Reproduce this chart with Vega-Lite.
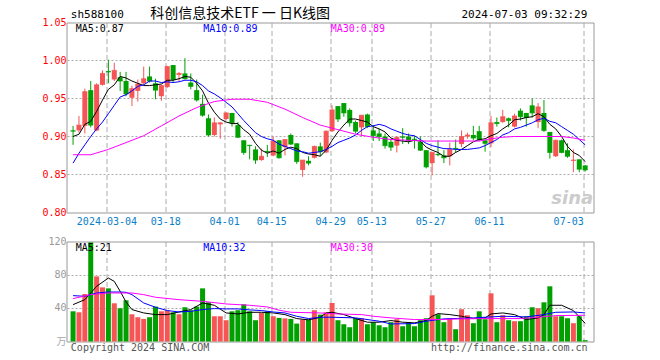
{
"$schema":"https://vega.github.io/schema/vega-lite/v6.json",
"background":"#ffffff",
"padding":{"left":41.5,"top":5.5,"right":60,"bottom":0},
"config":{"view":{"stroke":"#999999","strokeWidth":1},"axis":{"labelFont":"DejaVu Sans Mono","labelFontSize":10,"ticks":false,"domain":false,"title":null},"text":{"font":"DejaVu Sans Mono","fontSize":10}},
"datasets":{
"k":[
{"n":1,"d":"2024-02-23","o":0.908,"h":0.914,"l":0.889,"c":0.907,"v":36.6,"m5":0.900,"m10":0.865},
{"n":2,"d":"2024-02-26","o":0.908,"h":0.927,"l":0.905,"c":0.915,"v":35.4,"m5":0.903,"m10":0.878},
{"n":3,"d":"2024-02-27","o":0.914,"h":0.963,"l":0.904,"c":0.959,"v":57.6,"m5":0.916,"m10":0.889},
{"n":4,"d":"2024-02-28","o":0.961,"h":0.973,"l":0.912,"c":0.915,"v":120,"m5":0.920,"m10":0.900},
{"n":5,"d":"2024-02-29","o":0.908,"h":0.970,"l":0.907,"c":0.968,"v":78.9,"m5":0.933,"m10":0.910},
{"n":6,"d":"2024-03-01","o":0.968,"h":0.987,"l":0.967,"c":0.983,"v":65.6,"m5":0.948,"m10":0.919},
{"n":7,"d":"2024-03-04","o":0.986,"h":1.001,"l":0.970,"c":0.985,"v":64.4,"m5":0.962,"m10":0.930},
{"n":8,"d":"2024-03-05","o":0.975,"h":0.997,"l":0.973,"c":0.987,"v":46.3,"m5":0.968,"m10":0.941},
{"n":9,"d":"2024-03-06","o":0.978,"h":0.985,"l":0.960,"c":0.973,"v":40.3,"m5":0.979,"m10":0.952},
{"n":10,"d":"2024-03-07","o":0.973,"h":0.985,"l":0.953,"c":0.956,"v":49.9,"m5":0.977,"m10":0.955},
{"n":11,"d":"2024-03-08","o":0.951,"h":0.967,"l":0.940,"c":0.963,"v":33.0,"m5":0.973,"m10":0.960},
{"n":12,"d":"2024-03-11","o":0.960,"h":0.975,"l":0.946,"c":0.969,"v":29.4,"m5":0.970,"m10":0.966},
{"n":13,"d":"2024-03-12","o":0.970,"h":0.992,"l":0.968,"c":0.976,"v":27.4,"m5":0.967,"m10":0.968},
{"n":14,"d":"2024-03-13","o":0.979,"h":0.992,"l":0.971,"c":0.973,"v":29.4,"m5":0.967,"m10":0.973},
{"n":15,"d":"2024-03-14","o":0.970,"h":0.976,"l":0.949,"c":0.961,"v":42.3,"m5":0.968,"m10":0.973},
{"n":16,"d":"2024-03-15","o":0.953,"h":0.968,"l":0.947,"c":0.967,"v":36.6,"m5":0.969,"m10":0.971},
{"n":17,"d":"2024-03-18","o":0.965,"h":0.993,"l":0.964,"c":0.992,"v":37.5,"m5":0.974,"m10":0.972},
{"n":18,"d":"2024-03-19","o":0.994,"h":0.994,"l":0.971,"c":0.975,"v":35.4,"m5":0.974,"m10":0.971},
{"n":19,"d":"2024-03-20","o":0.981,"h":0.985,"l":0.973,"c":0.983,"v":33.0,"m5":0.976,"m10":0.972},
{"n":20,"d":"2024-03-21","o":0.983,"h":1.003,"l":0.975,"c":0.976,"v":41.5,"m5":0.979,"m10":0.974},
{"n":21,"d":"2024-03-22","o":0.971,"h":0.983,"l":0.962,"c":0.966,"v":37.9,"m5":0.978,"m10":0.974},
{"n":22,"d":"2024-03-25","o":0.961,"h":0.975,"l":0.946,"c":0.948,"v":42.3,"m5":0.970,"m10":0.972},
{"n":23,"d":"2024-03-26","o":0.943,"h":0.955,"l":0.926,"c":0.928,"v":64.4,"m5":0.960,"m10":0.967},
{"n":24,"d":"2024-03-27","o":0.924,"h":0.929,"l":0.900,"c":0.902,"v":47.5,"m5":0.944,"m10":0.960},
{"n":25,"d":"2024-03-28","o":0.902,"h":0.925,"l":0.900,"c":0.918,"v":30.6,"m5":0.932,"m10":0.956},
{"n":26,"d":"2024-03-29","o":0.916,"h":0.919,"l":0.897,"c":0.918,"v":30.6,"m5":0.923,"m10":0.951},
{"n":27,"d":"2024-04-01","o":0.923,"h":0.932,"l":0.921,"c":0.931,"v":25.8,"m5":0.919,"m10":0.945},
{"n":28,"d":"2024-04-02","o":0.931,"h":0.931,"l":0.913,"c":0.918,"v":36.6,"m5":0.917,"m10":0.939},
{"n":29,"d":"2024-04-03","o":0.915,"h":0.919,"l":0.898,"c":0.899,"v":37.9,"m5":0.917,"m10":0.930},
{"n":30,"d":"2024-04-08","o":0.895,"h":0.895,"l":0.876,"c":0.879,"v":45.1,"m5":0.909,"m10":0.921},
{"n":31,"d":"2024-04-09","o":0.889,"h":0.889,"l":0.870,"c":0.888,"v":36.6,"m5":0.903,"m10":0.913},
{"n":32,"d":"2024-04-10","o":0.883,"h":0.887,"l":0.864,"c":0.869,"v":25.8,"m5":0.891,"m10":0.905},
{"n":33,"d":"2024-04-11","o":0.869,"h":0.884,"l":0.868,"c":0.874,"v":34.6,"m5":0.882,"m10":0.900},
{"n":34,"d":"2024-04-12","o":0.881,"h":0.889,"l":0.873,"c":0.880,"v":36.6,"m5":0.878,"m10":0.897},
{"n":35,"d":"2024-04-15","o":0.875,"h":0.900,"l":0.874,"c":0.894,"v":30.6,"m5":0.881,"m10":0.895},
{"n":36,"d":"2024-04-16","o":0.895,"h":0.895,"l":0.871,"c":0.872,"v":28.6,"m5":0.878,"m10":0.890},
{"n":37,"d":"2024-04-17","o":0.886,"h":0.896,"l":0.875,"c":0.896,"v":28.0,"m5":0.883,"m10":0.887},
{"n":38,"d":"2024-04-18","o":0.902,"h":0.904,"l":0.889,"c":0.890,"v":27.4,"m5":0.886,"m10":0.884},
{"n":39,"d":"2024-04-19","o":0.891,"h":0.891,"l":0.864,"c":0.867,"v":21.7,"m5":0.884,"m10":0.881},
{"n":40,"d":"2024-04-22","o":0.856,"h":0.869,"l":0.847,"c":0.869,"v":26.6,"m5":0.879,"m10":0.880},
{"n":41,"d":"2024-04-23","o":0.868,"h":0.874,"l":0.862,"c":0.865,"v":26.6,"m5":0.877,"m10":0.878},
{"n":42,"d":"2024-04-24","o":0.872,"h":0.888,"l":0.871,"c":0.887,"v":37.9,"m5":0.876,"m10":0.879},
{"n":43,"d":"2024-04-25","o":0.887,"h":0.892,"l":0.874,"c":0.880,"v":32.6,"m5":0.874,"m10":0.880},
{"n":44,"d":"2024-04-26","o":0.879,"h":0.908,"l":0.878,"c":0.907,"v":35.4,"m5":0.882,"m10":0.883},
{"n":45,"d":"2024-04-29","o":0.907,"h":0.941,"l":0.906,"c":0.935,"v":46.7,"m5":0.895,"m10":0.887},
{"n":46,"d":"2024-04-30","o":0.940,"h":0.940,"l":0.919,"c":0.923,"v":25.8,"m5":0.906,"m10":0.892},
{"n":47,"d":"2024-05-06","o":0.944,"h":0.944,"l":0.926,"c":0.931,"v":20.9,"m5":0.915,"m10":0.895},
{"n":48,"d":"2024-05-07","o":0.935,"h":0.937,"l":0.913,"c":0.918,"v":17.3,"m5":0.923,"m10":0.898},
{"n":49,"d":"2024-05-08","o":0.919,"h":0.921,"l":0.904,"c":0.907,"v":28.2,"m5":0.923,"m10":0.902},
{"n":50,"d":"2024-05-09","o":0.912,"h":0.928,"l":0.900,"c":0.928,"v":28.2,"m5":0.921,"m10":0.908},
{"n":51,"d":"2024-05-10","o":0.929,"h":0.930,"l":0.911,"c":0.913,"v":20.9,"m5":0.919,"m10":0.913},
{"n":52,"d":"2024-05-13","o":0.908,"h":0.915,"l":0.894,"c":0.901,"v":23.4,"m5":0.913,"m10":0.914},
{"n":53,"d":"2024-05-14","o":0.904,"h":0.910,"l":0.894,"c":0.900,"v":19.7,"m5":0.910,"m10":0.916},
{"n":54,"d":"2024-05-15","o":0.900,"h":0.904,"l":0.884,"c":0.888,"v":17.3,"m5":0.906,"m10":0.914},
{"n":55,"d":"2024-05-16","o":0.893,"h":0.897,"l":0.881,"c":0.886,"v":23.4,"m5":0.898,"m10":0.910},
{"n":56,"d":"2024-05-17","o":0.888,"h":0.900,"l":0.879,"c":0.899,"v":27.0,"m5":0.895,"m10":0.907},
{"n":57,"d":"2024-05-20","o":0.900,"h":0.911,"l":0.890,"c":0.899,"v":18.5,"m5":0.894,"m10":0.904},
{"n":58,"d":"2024-05-21","o":0.900,"h":0.904,"l":0.890,"c":0.895,"v":23.4,"m5":0.893,"m10":0.902},
{"n":59,"d":"2024-05-22","o":0.897,"h":0.901,"l":0.884,"c":0.896,"v":18.5,"m5":0.895,"m10":0.901},
{"n":60,"d":"2024-05-23","o":0.893,"h":0.900,"l":0.881,"c":0.882,"v":25.8,"m5":0.894,"m10":0.896},
{"n":61,"d":"2024-05-24","o":0.882,"h":0.882,"l":0.858,"c":0.860,"v":28.2,"m5":0.886,"m10":0.891},
{"n":62,"d":"2024-05-27","o":0.865,"h":0.879,"l":0.849,"c":0.879,"v":56.0,"m5":0.882,"m10":0.888},
{"n":63,"d":"2024-05-28","o":0.877,"h":0.895,"l":0.874,"c":0.876,"v":33.0,"m5":0.879,"m10":0.886},
{"n":64,"d":"2024-05-29","o":0.875,"h":0.882,"l":0.865,"c":0.872,"v":23.4,"m5":0.874,"m10":0.884},
{"n":65,"d":"2024-05-30","o":0.874,"h":0.892,"l":0.862,"c":0.883,"v":28.2,"m5":0.874,"m10":0.884},
{"n":66,"d":"2024-05-31","o":0.885,"h":0.896,"l":0.879,"c":0.884,"v":14.9,"m5":0.879,"m10":0.883},
{"n":67,"d":"2024-06-03","o":0.890,"h":0.908,"l":0.886,"c":0.900,"v":39.1,"m5":0.883,"m10":0.883},
{"n":68,"d":"2024-06-04","o":0.900,"h":0.905,"l":0.897,"c":0.902,"v":31.8,"m5":0.888,"m10":0.883},
{"n":69,"d":"2024-06-05","o":0.902,"h":0.914,"l":0.895,"c":0.898,"v":22.2,"m5":0.893,"m10":0.884},
{"n":70,"d":"2024-06-06","o":0.907,"h":0.914,"l":0.894,"c":0.896,"v":36.6,"m5":0.896,"m10":0.885},
{"n":71,"d":"2024-06-07","o":0.895,"h":0.895,"l":0.880,"c":0.891,"v":27.0,"m5":0.897,"m10":0.888},
{"n":72,"d":"2024-06-11","o":0.891,"h":0.927,"l":0.886,"c":0.918,"v":58.4,"m5":0.901,"m10":0.892},
{"n":73,"d":"2024-06-12","o":0.919,"h":0.925,"l":0.913,"c":0.917,"v":23.4,"m5":0.904,"m10":0.896},
{"n":74,"d":"2024-06-13","o":0.919,"h":0.935,"l":0.918,"c":0.926,"v":31.8,"m5":0.910,"m10":0.902},
{"n":75,"d":"2024-06-14","o":0.924,"h":0.925,"l":0.912,"c":0.921,"v":25.8,"m5":0.915,"m10":0.905},
{"n":76,"d":"2024-06-17","o":0.913,"h":0.930,"l":0.912,"c":0.927,"v":24.6,"m5":0.922,"m10":0.910},
{"n":77,"d":"2024-06-18","o":0.934,"h":0.937,"l":0.921,"c":0.926,"v":24.6,"m5":0.923,"m10":0.912},
{"n":78,"d":"2024-06-19","o":0.931,"h":0.931,"l":0.913,"c":0.925,"v":30.6,"m5":0.925,"m10":0.915},
{"n":79,"d":"2024-06-20","o":0.941,"h":0.950,"l":0.925,"c":0.931,"v":41.5,"m5":0.926,"m10":0.918},
{"n":80,"d":"2024-06-21","o":0.919,"h":0.944,"l":0.911,"c":0.939,"v":40.3,"m5":0.930,"m10":0.922},
{"n":81,"d":"2024-06-24","o":0.931,"h":0.948,"l":0.906,"c":0.908,"v":47.5,"m5":0.926,"m10":0.924},
{"n":82,"d":"2024-06-25","o":0.906,"h":0.906,"l":0.871,"c":0.879,"v":66.9,"m5":0.916,"m10":0.920},
{"n":83,"d":"2024-06-26","o":0.874,"h":0.896,"l":0.873,"c":0.895,"v":30.6,"m5":0.910,"m10":0.918},
{"n":84,"d":"2024-06-27","o":0.895,"h":0.896,"l":0.878,"c":0.879,"v":30.6,"m5":0.900,"m10":0.913},
{"n":85,"d":"2024-06-28","o":0.882,"h":0.891,"l":0.872,"c":0.874,"v":28.2,"m5":0.887,"m10":0.908},
{"n":86,"d":"2024-07-01","o":0.868,"h":0.883,"l":0.853,"c":0.869,"v":22.2,"m5":0.879,"m10":0.903},
{"n":87,"d":"2024-07-02","o":0.870,"h":0.870,"l":0.853,"c":0.857,"v":30.6,"m5":0.875,"m10":0.896},
{"n":88,"d":"2024-07-03","o":0.862,"h":0.862,"l":0.854,"c":0.856,"v":1.6,"m5":0.867,"m10":0.889}
],
"m30":[
{"n":1,"p":0.876},{"n":4,"p":0.876},{"n":7,"p":0.883},{"n":10,"p":0.892},{"n":13,"p":0.901},{"n":16,"p":0.914},{"n":19,"p":0.927},{"n":22,"p":0.938},{"n":25,"p":0.946},{"n":28,"p":0.949},{"n":31,"p":0.949},{"n":34,"p":0.945},{"n":37,"p":0.936},{"n":40,"p":0.925},{"n":43,"p":0.915},{"n":46,"p":0.909},{"n":49,"p":0.903},{"n":52,"p":0.899},{"n":55,"p":0.896},{"n":58,"p":0.895},{"n":61,"p":0.894},{"n":64,"p":0.894},{"n":67,"p":0.894},{"n":70,"p":0.894},{"n":72,"p":0.897},{"n":74,"p":0.899},{"n":76,"p":0.900},{"n":80,"p":0.900},{"n":84,"p":0.900},{"n":86,"p":0.898},{"n":88,"p":0.895}
],
"vm5":[
{"n":1,"v":44.7},{"n":3,"v":50.7},{"n":5,"v":66.9},{"n":7,"v":76.9},{"n":8,"v":72.9},{"n":9,"v":60.8},{"n":10,"v":47.9},{"n":11,"v":38.7},{"n":13,"v":34.6},{"n":15,"v":32.6},{"n":17,"v":32.6},{"n":19,"v":35.8},{"n":21,"v":38.7},{"n":23,"v":46.7},{"n":25,"v":43.9},{"n":27,"v":34.6},{"n":29,"v":33.4},{"n":31,"v":35.4},{"n":33,"v":35.4},{"n":35,"v":34.6},{"n":37,"v":32.6},{"n":39,"v":27.8},{"n":41,"v":26.2},{"n":43,"v":29.4},{"n":44,"v":34.6},{"n":45,"v":35.4},{"n":47,"v":32.6},{"n":49,"v":27.8},{"n":51,"v":23.4},{"n":53,"v":23.4},{"n":55,"v":25.4},{"n":57,"v":23.4},{"n":59,"v":22.6},{"n":61,"v":25.4},{"n":62,"v":30.6},{"n":63,"v":33.8},{"n":65,"v":32.6},{"n":67,"v":30.6},{"n":69,"v":27.8},{"n":71,"v":28.6},{"n":72,"v":33.4},{"n":74,"v":34.6},{"n":76,"v":32.6},{"n":78,"v":26.6},{"n":80,"v":28.6},{"n":81,"v":32.6},{"n":82,"v":43.9},{"n":84,"v":43.9},{"n":86,"v":37.5},{"n":88,"v":22.0}
],
"vm10":[
{"n":1,"v":55.6},{"n":3,"v":54.8},{"n":5,"v":58.8},{"n":7,"v":60.0},{"n":9,"v":60.0},{"n":10,"v":59.6},{"n":11,"v":56.8},{"n":13,"v":46.7},{"n":15,"v":41.5},{"n":17,"v":37.5},{"n":19,"v":35.8},{"n":21,"v":36.6},{"n":23,"v":38.7},{"n":25,"v":39.9},{"n":27,"v":39.5},{"n":29,"v":39.5},{"n":31,"v":38.3},{"n":33,"v":37.5},{"n":35,"v":35.8},{"n":37,"v":34.6},{"n":39,"v":30.6},{"n":41,"v":27.8},{"n":43,"v":29.4},{"n":45,"v":29.4},{"n":49,"v":28.6},{"n":53,"v":24.6},{"n":55,"v":21.3},{"n":59,"v":21.7},{"n":61,"v":24.6},{"n":64,"v":27.4},{"n":69,"v":28.6},{"n":74,"v":30.6},{"n":78,"v":29.8},{"n":81,"v":32.6},{"n":83,"v":35.4},{"n":86,"v":35.8},{"n":88,"v":34.6}
],
"vm30":[
{"n":1,"v":52.0},{"n":4,"v":56.8},{"n":7,"v":58.8},{"n":11,"v":58.8},{"n":13,"v":56.8},{"n":15,"v":53.6},{"n":19,"v":50.7},{"n":23,"v":48.7},{"n":27,"v":45.5},{"n":31,"v":43.9},{"n":34,"v":41.9},{"n":36,"v":37.9},{"n":38,"v":35.4},{"n":43,"v":34.6},{"n":46,"v":33.4},{"n":50,"v":32.6},{"n":52,"v":30.6},{"n":55,"v":28.6},{"n":59,"v":26.6},{"n":63,"v":26.6},{"n":67,"v":27.4},{"n":71,"v":27.8},{"n":77,"v":27.8},{"n":80,"v":29.4},{"n":83,"v":31.4},{"n":88,"v":31.8}
],
"pticks":[{"t":0.8},{"t":0.85},{"t":0.9},{"t":0.95},{"t":1.0},{"t":1.05}],
"pgrid":[{"g":0.85},{"g":0.9},{"g":0.95},{"g":1.0}],
"vticks":[{"t":40},{"t":80},{"t":120}],
"vgrid":[{"g":40},{"g":80}]
},
"spacing":29,
"bounds":"flush",
"vconcat":[
{
"width":527,"height":190,
"data":{"name":"k"},
"layer":[
{"data":{"name":"pgrid"},"mark":{"type":"rule","color":"#aaaaaa","strokeWidth":1,"strokeDash":[2,2]},
 "encoding":{"y":{"field":"g","type":"quantitative","scale":{"domain":[0.8,1.05],"nice":false,"zero":false},"axis":null}}},
{"mark":{"type":"rule","strokeWidth":1},
 "encoding":{
  "x":{"field":"n","type":"quantitative","scale":{"domain":[0.733,88.567],"nice":false,"zero":false},
   "axis":{"values":[6.67,16.67,26.67,34.67,44.67,51.67,61.67,71.67,87.67],"labelOverlap":false,
    "labelExpr":"datum.value<10?'2024-03-04':datum.value<20?'03-18':datum.value<30?'04-01':datum.value<40?'04-15':datum.value<48?'04-29':datum.value<55?'05-13':datum.value<65?'05-27':datum.value<80?'06-11':'07-03'",
    "labelColor":"#0a80c8","labelPadding":4,"labelFontSize":10,
    "labelAlign":{"condition":{"test":"datum.value>80","value":"right"},"value":"center"},
    "grid":true,"gridColor":"#aaaaaa","gridDash":[5,3]}},
  "y":{"field":"l","type":"quantitative","scale":{"domain":[0.8,1.05],"nice":false,"zero":false},"axis":null},
  "y2":{"field":"h"},
  "color":{"condition":{"test":"datum.c>=datum.o","value":"#f55555"},"value":"#00a000"}
 }},
{"mark":{"type":"bar","width":5},
 "encoding":{"x":{"field":"n","type":"quantitative"},"y":{"field":"o","type":"quantitative","axis":null},"y2":{"field":"c"},
  "color":{"condition":{"test":"datum.c>=datum.o","value":"#f55555"},"value":"#00a000"}}},
{"mark":{"type":"tick","orient":"horizontal","size":5,"thickness":1},
 "encoding":{"x":{"field":"n","type":"quantitative"},"y":{"field":"c","type":"quantitative","axis":null},
  "color":{"condition":{"test":"datum.c>=datum.o","value":"#f55555"},"value":"#00a000"}}},
{"mark":{"type":"line","color":"#000000","strokeWidth":1},
 "encoding":{"x":{"field":"n","type":"quantitative"},"y":{"field":"m5","type":"quantitative","axis":null}}},
{"mark":{"type":"line","color":"#0000ff","strokeWidth":1},
 "encoding":{"x":{"field":"n","type":"quantitative"},"y":{"field":"m10","type":"quantitative","axis":null}}},
{"data":{"name":"m30"},"mark":{"type":"line","color":"#ff00ff","strokeWidth":1},
 "encoding":{"x":{"field":"n","type":"quantitative"},"y":{"field":"p","type":"quantitative","axis":null}}},
{"data":{"name":"pticks"},"mark":{"type":"text","align":"right","baseline":"middle","dx":-5,"fontSize":10,"color":"#ff0000"},
 "encoding":{"x":{"datum":0.733},"y":{"field":"t","type":"quantitative","axis":null},"text":{"field":"t","type":"quantitative","format":".2f"}}},
{"data":{"values":[{}]},"mark":{"type":"text","text":"sh588100","align":"left","baseline":"middle","dy":-8,"fontSize":11,"color":"#000000"},
 "encoding":{"x":{"datum":0.617},"y":{"datum":1.05}}},
{"data":{"values":[{}]},"mark":{"type":"text","text":"科创信息技术ETF 一 日K线图","align":"left","baseline":"middle","dy":-9,"font":"Noto Sans CJK SC","fontSize":14,"color":"#000000"},
 "encoding":{"x":{"datum":14.12},"y":{"datum":1.05}}},
{"data":{"values":[{}]},"mark":{"type":"text","text":"2024-07-03 09:32:29","align":"right","baseline":"middle","dy":-8,"fontSize":11,"color":"#000000"},
 "encoding":{"x":{"datum":88.37},"y":{"datum":1.05}}},
{"data":{"values":[{}]},"mark":{"type":"text","text":"MA5:0.87","align":"left","baseline":"middle","dy":6,"fontSize":10,"color":"#000000"},
 "encoding":{"x":{"datum":1.45},"y":{"datum":1.05}}},
{"data":{"values":[{}]},"mark":{"type":"text","text":"MA10:0.89","align":"left","baseline":"middle","dy":6,"fontSize":10,"color":"#0000ff"},
 "encoding":{"x":{"datum":23.12},"y":{"datum":1.05}}},
{"data":{"values":[{}]},"mark":{"type":"text","text":"MA30:0.89","align":"left","baseline":"middle","dy":6,"fontSize":10,"color":"#ff00ff"},
 "encoding":{"x":{"datum":44.78},"y":{"datum":1.05}}},
{"data":{"values":[{}]},"mark":{"type":"text","text":"sina","align":"center","baseline":"middle","font":"DejaVu Sans","fontSize":18,"fontWeight":"bold","fontStyle":"italic","color":"#cccccc"},
 "encoding":{"x":{"datum":85.8},"y":{"datum":0.8175}}}
]
},
{
"width":527,"height":100,
"data":{"name":"k"},
"layer":[
{"data":{"name":"vgrid"},"mark":{"type":"rule","color":"#aaaaaa","strokeWidth":1,"strokeDash":[2,2]},
 "encoding":{"y":{"field":"g","type":"quantitative","scale":{"domain":[0,121.2],"nice":false},"axis":null}}},
{"mark":{"type":"bar","width":5},
 "encoding":{
  "x":{"field":"n","type":"quantitative","scale":{"domain":[0.733,88.567],"nice":false,"zero":false},
   "axis":{"values":[6.67,16.67,26.67,34.67,44.67,51.67,61.67,71.67,87.67],"labels":false,"grid":true,"gridColor":"#aaaaaa","gridDash":[5,3]}},
  "y":{"field":"v","type":"quantitative","scale":{"domain":[0,121.2],"nice":false},"axis":null},
  "color":{"condition":{"test":"datum.c>=datum.o","value":"#f55555"},"value":"#00a000"}
 }},
{"data":{"name":"vm5"},"mark":{"type":"line","color":"#000000","strokeWidth":1},
 "encoding":{"x":{"field":"n","type":"quantitative"},"y":{"field":"v","type":"quantitative","axis":null}}},
{"data":{"name":"vm10"},"mark":{"type":"line","color":"#0000ff","strokeWidth":1},
 "encoding":{"x":{"field":"n","type":"quantitative"},"y":{"field":"v","type":"quantitative","axis":null}}},
{"data":{"name":"vm30"},"mark":{"type":"line","color":"#ff00ff","strokeWidth":1},
 "encoding":{"x":{"field":"n","type":"quantitative"},"y":{"field":"v","type":"quantitative","axis":null}}},
{"data":{"name":"vticks"},"mark":{"type":"text","align":"right","baseline":"middle","dx":-5,"fontSize":10,"color":"#999999"},
 "encoding":{"x":{"datum":0.733},"y":{"field":"t","type":"quantitative","axis":null},"text":{"field":"t","type":"quantitative"}}},
{"data":{"values":[{}]},"mark":{"type":"text","text":"万","align":"right","baseline":"middle","dx":-5,"font":"Noto Sans CJK SC","fontSize":10,"color":"#aaaaaa"},
 "encoding":{"x":{"datum":0.733},"y":{"datum":0}}},
{"data":{"values":[{}]},"mark":{"type":"text","text":"MA5:21","align":"left","baseline":"middle","dy":6,"fontSize":10,"color":"#000000"},
 "encoding":{"x":{"datum":1.45},"y":{"datum":121.2}}},
{"data":{"values":[{}]},"mark":{"type":"text","text":"MA10:32","align":"left","baseline":"middle","dy":6,"fontSize":10,"color":"#0000ff"},
 "encoding":{"x":{"datum":23.12},"y":{"datum":121.2}}},
{"data":{"values":[{}]},"mark":{"type":"text","text":"MA30:30","align":"left","baseline":"middle","dy":6,"fontSize":10,"color":"#ff00ff"},
 "encoding":{"x":{"datum":44.78},"y":{"datum":121.2}}},
{"data":{"values":[{}]},"mark":{"type":"text","text":"Copyright 2024 SINA.COM","align":"left","baseline":"middle","dy":6,"fontSize":10,"color":"#555555"},
 "encoding":{"x":{"datum":0.62},"y":{"datum":0}}},
{"data":{"values":[{}]},"mark":{"type":"text","text":"http://finance.sina.com.cn","align":"right","baseline":"middle","dy":6,"fontSize":10,"color":"#555555"},
 "encoding":{"x":{"datum":88.4},"y":{"datum":0}}}
]
}
]
}
